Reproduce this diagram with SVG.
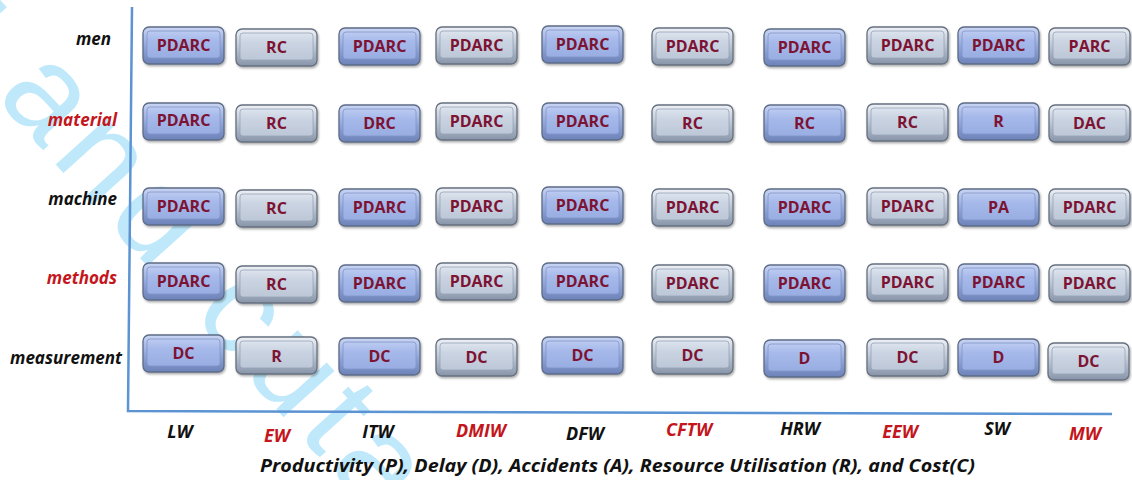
<svg xmlns="http://www.w3.org/2000/svg" xmlns:xlink="http://www.w3.org/1999/xlink" width="1132" height="480" viewBox="0 0 1132 480">
  <defs>
    <linearGradient id="blueEdge" x1="0" y1="0" x2="0" y2="1">
      <stop offset="0" stop-color="#c9d5f4"/>
      <stop offset="0.5" stop-color="#93a8dc"/>
      <stop offset="1" stop-color="#6c82b8"/>
    </linearGradient>
    <linearGradient id="blueFace" x1="0" y1="0" x2="0" y2="1">
      <stop offset="0" stop-color="#bccbf1"/>
      <stop offset="0.35" stop-color="#a6b9ea"/>
      <stop offset="1" stop-color="#98ade2"/>
    </linearGradient>
    <linearGradient id="greyEdge" x1="0" y1="0" x2="0" y2="1">
      <stop offset="0" stop-color="#eef1f6"/>
      <stop offset="0.5" stop-color="#b9c4d4"/>
      <stop offset="1" stop-color="#8894a8"/>
    </linearGradient>
    <linearGradient id="greyFace" x1="0" y1="0" x2="0" y2="1">
      <stop offset="0" stop-color="#dde4ee"/>
      <stop offset="0.35" stop-color="#cbd4e2"/>
      <stop offset="1" stop-color="#bcc7d7"/>
    </linearGradient>
    <filter id="drop" x="-10%" y="-20%" width="125%" height="150%">
      <feDropShadow dx="1" dy="1.5" stdDeviation="1.2" flood-color="#000" flood-opacity="0.35"/>
    </filter>
    <!-- bevelled button shapes, 81 x 37 -->
    <g id="btn-blue">
      <rect x="0" y="0" width="81" height="37" rx="6" fill="url(#blueEdge)" stroke="#5e6c86" stroke-width="1.3" filter="url(#drop)"/>
      <rect x="4" y="4" width="73" height="27" rx="3" fill="url(#blueFace)" stroke="#8195c6" stroke-width="0.8"/>
    </g>
    <g id="btn-grey">
      <rect x="0" y="0" width="81" height="37" rx="6" fill="url(#greyEdge)" stroke="#66707f" stroke-width="1.3" filter="url(#drop)"/>
      <rect x="4" y="4" width="73" height="27" rx="3" fill="url(#greyFace)" stroke="#97a3b6" stroke-width="0.8"/>
    </g>
  </defs>
  <style>
    .wm { font-family: "Liberation Sans", Arial, sans-serif; font-size: 130px; letter-spacing: 10px; fill: #bfe9fb; }
    .axis { stroke: #5b93d3; stroke-width: 2.5; fill: none; }
    .val { font-family: "Open Sans", "Liberation Sans", sans-serif; font-weight: 700; font-size: 16px; fill: #7d1333; text-anchor: middle; }
    .lab { font-family: "Open Sans", "Liberation Sans", sans-serif; font-weight: 700; font-style: italic; font-size: 17px; fill: #111; }
    .row { text-anchor: end; }
    .col { text-anchor: middle; font-size: 18px; }
    .red { fill: #c4161c; }
    .cap { font-family: "Open Sans", "Liberation Sans", sans-serif; font-weight: 700; font-style: italic; font-size: 18px; fill: #111; }
  </style>

  <rect width="1132" height="480" fill="#ffffff"/>

  <!-- faint diagonal watermark -->
  <text class="wm" transform="translate(-67,28) rotate(48)">t and cuta</text>

  <!-- axes -->
  <g id="connectors">
    <path class="axis" d="M132 7 L128 411 L1112 414"/>
  </g>

  <!-- row labels -->
  <g id="row-labels" class="lab row">
    <text id="lbl-men" x="111" y="45">men</text>
    <text id="lbl-material" x="117" y="126" class="red">material</text>
    <text id="lbl-machine" x="117" y="205">machine</text>
    <text id="lbl-methods" x="117" y="284" class="red">methods</text>
    <text id="lbl-measurement" x="122" y="364">measurement</text>
  </g>

  <!-- column labels -->
  <g id="col-labels" class="lab col">
    <text x="180" y="438">LW</text>
    <text x="277" y="442" class="red">EW</text>
    <text x="378" y="438">ITW</text>
    <text x="481" y="437" class="red">DMIW</text>
    <text x="585" y="440">DFW</text>
    <text x="689" y="436" class="red">CFTW</text>
    <text x="800" y="435">HRW</text>
    <text x="900" y="438" class="red">EEW</text>
    <text x="997" y="435">SW</text>
    <text x="1085" y="440" class="red">MW</text>
  </g>

  <text id="caption" class="cap" x="260" y="472" textLength="715" lengthAdjust="spacingAndGlyphs">Productivity (P), Delay (D), Accidents (A), Resource Utilisation (R), and Cost(C)</text>

  <!-- row: men -->
  <g id="men-LW"><use xlink:href="#btn-blue" x="143" y="27"/><text class="val" x="183.5" y="51">PDARC</text></g>
  <g id="men-EW"><use xlink:href="#btn-grey" x="236" y="29"/><text class="val" x="276.5" y="53">RC</text></g>
  <g id="men-ITW"><use xlink:href="#btn-blue" x="339" y="28"/><text class="val" x="379.5" y="52">PDARC</text></g>
  <g id="men-DMIW"><use xlink:href="#btn-grey" x="436" y="27"/><text class="val" x="476.5" y="51">PDARC</text></g>
  <g id="men-DFW"><use xlink:href="#btn-blue" x="542" y="26"/><text class="val" x="582.5" y="50">PDARC</text></g>
  <g id="men-CFTW"><use xlink:href="#btn-grey" x="652" y="28"/><text class="val" x="692.5" y="52">PDARC</text></g>
  <g id="men-HRW"><use xlink:href="#btn-blue" x="764" y="29"/><text class="val" x="804.5" y="53">PDARC</text></g>
  <g id="men-EEW"><use xlink:href="#btn-grey" x="867" y="27"/><text class="val" x="907.5" y="51">PDARC</text></g>
  <g id="men-SW"><use xlink:href="#btn-blue" x="958" y="27"/><text class="val" x="998.5" y="51">PDARC</text></g>
  <g id="men-MW"><use xlink:href="#btn-grey" x="1049" y="28"/><text class="val" x="1089.5" y="52">PARC</text></g>

  <!-- row: material -->
  <g id="material-LW"><use xlink:href="#btn-blue" x="143" y="103"/><text class="val" x="183.5" y="126">PDARC</text></g>
  <g id="material-EW"><use xlink:href="#btn-grey" x="236" y="105"/><text class="val" x="276.5" y="129">RC</text></g>
  <g id="material-ITW"><use xlink:href="#btn-blue" x="339" y="105"/><text class="val" x="379.5" y="129">DRC</text></g>
  <g id="material-DMIW"><use xlink:href="#btn-grey" x="436" y="103"/><text class="val" x="476.5" y="127">PDARC</text></g>
  <g id="material-DFW"><use xlink:href="#btn-blue" x="542" y="103"/><text class="val" x="582.5" y="127">PDARC</text></g>
  <g id="material-CFTW"><use xlink:href="#btn-grey" x="652" y="105"/><text class="val" x="692.5" y="129">RC</text></g>
  <g id="material-HRW"><use xlink:href="#btn-blue" x="764" y="105"/><text class="val" x="804.5" y="129">RC</text></g>
  <g id="material-EEW"><use xlink:href="#btn-grey" x="867" y="104"/><text class="val" x="907.5" y="128">RC</text></g>
  <g id="material-SW"><use xlink:href="#btn-blue" x="958" y="103"/><text class="val" x="998.5" y="127">R</text></g>
  <g id="material-MW"><use xlink:href="#btn-grey" x="1049" y="105"/><text class="val" x="1089.5" y="129">DAC</text></g>

  <!-- row: machine -->
  <g id="machine-LW"><use xlink:href="#btn-blue" x="143" y="188"/><text class="val" x="183.5" y="212">PDARC</text></g>
  <g id="machine-EW"><use xlink:href="#btn-grey" x="236" y="190"/><text class="val" x="276.5" y="214">RC</text></g>
  <g id="machine-ITW"><use xlink:href="#btn-blue" x="339" y="189"/><text class="val" x="379.5" y="213">PDARC</text></g>
  <g id="machine-DMIW"><use xlink:href="#btn-grey" x="436" y="188"/><text class="val" x="476.5" y="212">PDARC</text></g>
  <g id="machine-DFW"><use xlink:href="#btn-blue" x="542" y="187"/><text class="val" x="582.5" y="211">PDARC</text></g>
  <g id="machine-CFTW"><use xlink:href="#btn-grey" x="652" y="189"/><text class="val" x="692.5" y="213">PDARC</text></g>
  <g id="machine-HRW"><use xlink:href="#btn-blue" x="764" y="189"/><text class="val" x="804.5" y="213">PDARC</text></g>
  <g id="machine-EEW"><use xlink:href="#btn-grey" x="867" y="188"/><text class="val" x="907.5" y="212">PDARC</text></g>
  <g id="machine-SW"><use xlink:href="#btn-blue" x="958" y="189"/><text class="val" x="998.5" y="213">PA</text></g>
  <g id="machine-MW"><use xlink:href="#btn-grey" x="1049" y="189"/><text class="val" x="1089.5" y="213">PDARC</text></g>

  <!-- row: methods -->
  <g id="methods-LW"><use xlink:href="#btn-blue" x="143" y="263"/><text class="val" x="183.5" y="287">PDARC</text></g>
  <g id="methods-EW"><use xlink:href="#btn-grey" x="236" y="266"/><text class="val" x="276.5" y="290">RC</text></g>
  <g id="methods-ITW"><use xlink:href="#btn-blue" x="339" y="265"/><text class="val" x="379.5" y="289">PDARC</text></g>
  <g id="methods-DMIW"><use xlink:href="#btn-grey" x="436" y="263"/><text class="val" x="476.5" y="287">PDARC</text></g>
  <g id="methods-DFW"><use xlink:href="#btn-blue" x="542" y="263"/><text class="val" x="582.5" y="287">PDARC</text></g>
  <g id="methods-CFTW"><use xlink:href="#btn-grey" x="652" y="265"/><text class="val" x="692.5" y="289">PDARC</text></g>
  <g id="methods-HRW"><use xlink:href="#btn-blue" x="764" y="265"/><text class="val" x="804.5" y="289">PDARC</text></g>
  <g id="methods-EEW"><use xlink:href="#btn-grey" x="867" y="264"/><text class="val" x="907.5" y="288">PDARC</text></g>
  <g id="methods-SW"><use xlink:href="#btn-blue" x="958" y="264"/><text class="val" x="998.5" y="288">PDARC</text></g>
  <g id="methods-MW"><use xlink:href="#btn-grey" x="1049" y="265"/><text class="val" x="1089.5" y="289">PDARC</text></g>

  <!-- row: measurement -->
  <g id="measurement-LW"><use xlink:href="#btn-blue" x="143" y="335"/><text class="val" x="183.5" y="359">DC</text></g>
  <g id="measurement-EW"><use xlink:href="#btn-grey" x="236" y="337"/><text class="val" x="276.5" y="362">R</text></g>
  <g id="measurement-ITW"><use xlink:href="#btn-blue" x="339" y="338"/><text class="val" x="379.5" y="362">DC</text></g>
  <g id="measurement-DMIW"><use xlink:href="#btn-grey" x="436" y="339"/><text class="val" x="476.5" y="363">DC</text></g>
  <g id="measurement-DFW"><use xlink:href="#btn-blue" x="542" y="337"/><text class="val" x="582.5" y="361">DC</text></g>
  <g id="measurement-CFTW"><use xlink:href="#btn-grey" x="652" y="337"/><text class="val" x="692.5" y="361">DC</text></g>
  <g id="measurement-HRW"><use xlink:href="#btn-blue" x="764" y="340"/><text class="val" x="804.5" y="364">D</text></g>
  <g id="measurement-EEW"><use xlink:href="#btn-grey" x="867" y="339"/><text class="val" x="907.5" y="363">DC</text></g>
  <g id="measurement-SW"><use xlink:href="#btn-blue" x="958" y="339"/><text class="val" x="998.5" y="363">D</text></g>
  <g id="measurement-MW"><use xlink:href="#btn-grey" x="1048" y="343"/><text class="val" x="1088.5" y="367">DC</text></g>
</svg>
